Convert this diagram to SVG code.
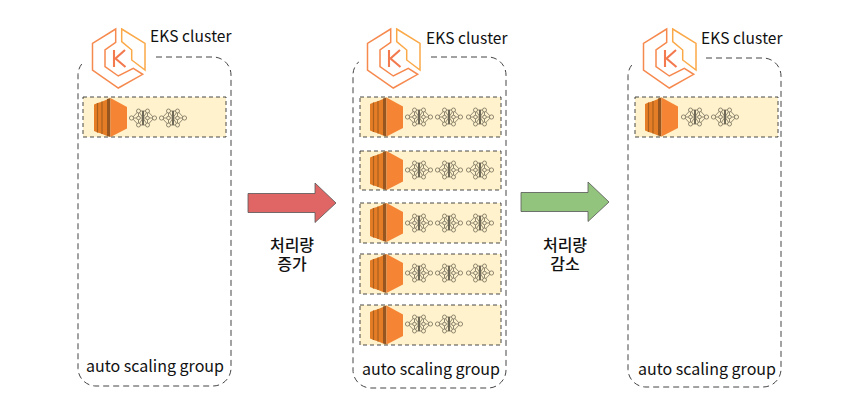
<svg xmlns="http://www.w3.org/2000/svg" width="856" height="407" viewBox="0 0 856 407">
<style>
text{font-family:"Noto Sans CJK KR","Noto Sans",sans-serif;fill:#111}
.lbl{font-size:15.5px;letter-spacing:.1px}
.ko{font-size:16px;text-anchor:middle;font-weight:500}
.asg{font-size:16px;text-anchor:middle}
.cl{fill:#fff;stroke:#444;stroke-width:1;stroke-dasharray:6 4}
.band{fill:#fff2cc;stroke:#333;stroke-width:.9;stroke-dasharray:4 3}
.arr{stroke:#555;stroke-width:.8}
.n{fill:#fff2cc;stroke:#837d68;stroke-width:.9}
.nl{fill:none;stroke:#837d68;stroke-width:.9}
</style>
<defs>
<g id="eks" fill="none" stroke-linejoin="miter" stroke-width="1.500">
<path d="M23.700 1 .5 15.300V42L26.300 60 50.700 46.300 41.300 40.300 26.300 48 13 38.700V22L23.700 14.300Z" stroke="#f6894e"/>
<path d="M29.700 1 53 15.300V42L39.700 32V22L29.700 13.700Z" stroke="#fba948"/>
<path d="M22 22V39M33 22 23.500 30.500 33.500 39" stroke="#f3794e" stroke-width="2.100"/>
</g>
<g id="ec2">
<path d="M0 6.500 3.500 5 7 4 9.500 3 13 1.500V38L9.500 36.500 7 35.500 3.500 34.500 0 33Z" fill="#e57d27"/>
<path d="M3.500 5V34.500M8 3.500V36" stroke="#a9601f" stroke-width="1.200" fill="none"/>
<path d="M13 1 16.500 0V39L13 38Z" fill="#97561f"/>
<path d="M16.500 0 33 9V30.500L16.500 39Z" fill="#f58534"/>
</g>
<g id="pod">
<path class="nl" d="M-11 0H11M-11 0-4.500-7H4.500L11 0 4.500 7H-4.500ZM-4.500-7 0 0 4.500-7M-4.500 7 0 0 4.500 7M-4.500-7V7M4.500-7V7"/>
<path d="M0-7V7" stroke="#6f6a58" stroke-width="2" fill="none"/>
<circle class="n" cx="-11.500" cy="0" r="2.100"/><circle class="n" cx="11.500" cy="0" r="2.100"/>
<circle class="n" cx="-4.500" cy="-7" r="2"/><circle class="n" cx="4.500" cy="-7" r="2"/>
<circle class="n" cx="-4.500" cy="7" r="2"/><circle class="n" cx="4.500" cy="7" r="2"/>
<circle class="n" cx="-4.500" cy="0" r="1.800"/><circle class="n" cx="4.500" cy="0" r="1.800"/>
</g>
</defs>

<g id="cluster-1">
<rect class="cl" x="78" y="57" width="153" height="329" rx="18"/>
<rect x="84" y="27" width="68" height="65" fill="#fff"/>
<use href="#eks" x="92" y="28"/>
<text class="lbl" x="150" y="42">EKS cluster</text>
<text class="asg" x="155" y="372">auto scaling group</text>
</g>
<g id="group-1-1">
<rect class="band" x="83" y="97" width="143" height="40"/>
<use href="#ec2" x="94" y="98"/><use href="#pod" x="143" y="118"/><use href="#pod" x="173" y="118"/>
</g>

<g id="cluster-2">
<rect class="cl" x="353" y="57" width="153" height="331" rx="18"/>
<rect x="359" y="27" width="68" height="65" fill="#fff"/>
<use href="#eks" x="367" y="28"/>
<text class="lbl" x="426" y="44">EKS cluster</text>
<text class="asg" x="431" y="375">auto scaling group</text>
</g>
<g id="group-2-1">
<rect class="band" x="360" y="97" width="141" height="40"/>
<use href="#ec2" x="370" y="97.500"/><use href="#pod" x="419" y="117"/><use href="#pod" x="449" y="117"/><use href="#pod" x="480" y="117"/>
</g>
<g id="group-2-2">
<rect class="band" x="360" y="151" width="141" height="39"/>
<use href="#ec2" x="370" y="151"/><use href="#pod" x="419" y="170"/><use href="#pod" x="449" y="170"/><use href="#pod" x="480" y="170"/>
</g>
<g id="group-2-3">
<rect class="band" x="360" y="203" width="141" height="40"/>
<use href="#ec2" x="370" y="203"/><use href="#pod" x="419" y="223"/><use href="#pod" x="449" y="223"/><use href="#pod" x="480" y="223"/>
</g>
<g id="group-2-4">
<rect class="band" x="360" y="254" width="141" height="40"/>
<use href="#ec2" x="370" y="254"/><use href="#pod" x="419" y="273"/><use href="#pod" x="449" y="273"/><use href="#pod" x="480" y="273"/>
</g>
<g id="group-2-5">
<rect class="band" x="360" y="305" width="141" height="40"/>
<use href="#ec2" x="370" y="305.500"/><use href="#pod" x="419" y="324"/><use href="#pod" x="449" y="324"/>
</g>

<g id="cluster-3">
<rect class="cl" x="628" y="58" width="153" height="329" rx="18"/>
<rect x="634" y="27" width="68" height="65" fill="#fff"/>
<use href="#eks" x="643" y="28"/>
<text class="lbl" x="701" y="44">EKS cluster</text>
<text class="asg" x="707" y="375">auto scaling group</text>
</g>
<g id="group-3-1">
<rect class="band" x="635" y="97" width="143" height="40"/>
<use href="#ec2" x="645" y="97.500"/><use href="#pod" x="695" y="117"/><use href="#pod" x="725" y="117"/>
</g>

<g id="connectors">
<path class="arr" fill="#e06666" d="M248 193.500H315V183L336 203 315 222.500V212.500H248Z"/>
<path class="arr" fill="#93c47d" d="M521 192.500H588V182L609 202 588 221.500V211.500H521Z"/>
</g>
<g id="labels">
<text class="ko" x="292" y="251"><tspan x="292">처리량</tspan><tspan x="292" dy="19">증가</tspan></text>
<text class="ko" x="565" y="251"><tspan x="565">처리량</tspan><tspan x="565" dy="19">감소</tspan></text>
</g>
</svg>
